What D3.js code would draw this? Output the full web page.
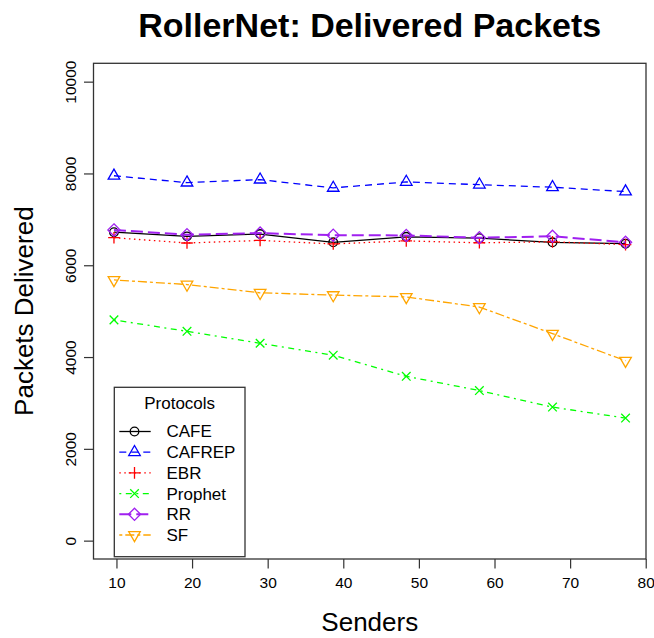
<!DOCTYPE html>
<html>
<head>
<meta charset="utf-8">
<script src="https://cdn.jsdelivr.net/npm/d3@7"></script>
<style>
  html, body { margin: 0; padding: 0; background: #fff; }
  svg { display: block; font-family: "Liberation Sans", Arial, Helvetica, sans-serif; }
</style>
</head>
<body>
<svg id="chart" width="654" height="638"></svg>
<script>
// ---- data ----
const senders = [9.67, 19.33, 29, 38.67, 48.33, 58, 67.67, 77.33];
const protocols = ["CAFE", "CAFREP", "EBR", "Prophet", "RR", "SF"];
const cafe    = [6720, 6630, 6680, 6500, 6620, 6590, 6500, 6470];
const cafrep  = [7950, 7800, 7865, 7685, 7815, 7755, 7700, 7605];
const ebr     = [6600, 6485, 6540, 6465, 6530, 6490, 6510, 6450];
const prophet = [4810, 4560, 4300, 4040, 3580, 3270, 2910, 2670];
const rr      = [6770, 6665, 6700, 6655, 6650, 6600, 6630, 6500];
const sf      = [5680, 5580, 5400, 5350, 5310, 5090, 4510, 3920];
const xTicks = [10, 20, 30, 40, 50, 60, 70, 80];
const yTicks = [0, 2000, 4000, 6000, 8000, 10000];
const yLimits = [0, 10000];
const title = "RollerNet: Delivered Packets";
const xTitle = "Senders";
const yTitle = "Packets Delivered";
const legendTitle = "Protocols";

// ---- styles ----
const styles = {
  CAFE:    { color: "#000000", dash: null,          width: 1.3, shape: "circle" },
  CAFREP:  { color: "#0000FF", dash: "7,5",         width: 1.3, shape: "triUp" },
  EBR:     { color: "#FF0000", dash: "1.5,3.5",     width: 1.3, shape: "plus" },
  Prophet: { color: "#00FF00", dash: "2,4.5,6,4.5", width: 1.3, shape: "cross" },
  RR:      { color: "#A020F0", dash: "12,5",        width: 2,   shape: "diamond" },
  SF:      { color: "#FFA500", dash: "3,3,9,3",     width: 1.3, shape: "triDown" }
};
const seriesValues = { CAFE: cafe, CAFREP: cafrep, EBR: ebr, Prophet: prophet, RR: rr, SF: sf };

const svg = d3.select("#chart");
const box = { left: 93.5, right: 646, top: 63.3, bottom: 559 };

// R-style 4% padding
const xr = d3.extent(senders), xp = (xr[1] - xr[0]) * 0.04;
const x = d3.scaleLinear().domain([xr[0] - xp, xr[1] + xp]).range([box.left, box.right]);
const yp = (yLimits[1] - yLimits[0]) * 0.04;
const y = d3.scaleLinear().domain([yLimits[0] - yp, yLimits[1] + yp]).range([box.bottom, box.top]);

const axisColor = "#333";

// axes
const xAxis = svg.append("g").attr("transform", `translate(0,${box.bottom})`)
  .call(d3.axisBottom(x).tickValues(xTicks).tickSize(9.5).tickPadding(8).tickFormat(d3.format("d")));
xAxis.select(".domain").remove();
xAxis.selectAll("line").attr("stroke", axisColor).attr("stroke-width", 1.2);
xAxis.selectAll("text").attr("font-size", "15.5px").attr("fill", "#000");

const yAxis = svg.append("g").attr("transform", `translate(${box.left},0)`)
  .call(d3.axisLeft(y).tickValues(yTicks).tickSize(9.5).tickFormat(d3.format("d")));
yAxis.select(".domain").remove();
yAxis.selectAll("line").attr("stroke", axisColor).attr("stroke-width", 1.2);
yAxis.selectAll("text")
  .attr("font-size", "15.5px").attr("fill", "#000")
  .attr("text-anchor", "middle")
  .attr("x", null).attr("y", 0)
  .attr("transform", "translate(-23,0) rotate(-90)")
  .attr("dy", "0.35em");

// box
svg.append("rect")
  .attr("x", box.left).attr("y", box.top)
  .attr("width", box.right - box.left).attr("height", box.bottom - box.top)
  .attr("fill", "none").attr("stroke", axisColor).attr("stroke-width", 1.3);

// titles
svg.append("text").attr("x", (box.left + box.right) / 2).attr("y", 37)
  .attr("text-anchor", "middle").attr("font-weight", "bold").attr("font-size", "34px").text(title);
svg.append("text").attr("x", (box.left + box.right) / 2).attr("y", 631)
  .attr("text-anchor", "middle").attr("font-size", "26px").text(xTitle);
svg.append("text")
  .attr("transform", `translate(33,${(box.top + box.bottom) / 2}) rotate(-90)`)
  .attr("text-anchor", "middle").attr("font-size", "26px").text(yTitle);

// marker drawing
const R = 4.3;
function drawMarker(g, shape, cx, cy, color) {
  const sw = 1.3;
  if (shape === "circle") {
    g.append("circle").attr("cx", cx).attr("cy", cy).attr("r", R)
      .attr("fill", "none").attr("stroke", color).attr("stroke-width", sw);
  } else if (shape === "triUp" || shape === "triDown") {
    const r = R * 1.555, xc = r * Math.sqrt(3) / 2, yc = r / 2;
    const s = shape === "triUp" ? -1 : 1;
    const pts = [[cx, cy + s * r], [cx + xc, cy - s * yc], [cx - xc, cy - s * yc]];
    g.append("polygon").attr("points", pts.map(p => p.join(",")).join(" "))
      .attr("fill", "none").attr("stroke", color).attr("stroke-width", sw);
  } else if (shape === "plus") {
    const h = R * 1.35;
    g.append("path").attr("d", `M${cx - h},${cy}H${cx + h}M${cx},${cy - h}V${cy + h}`)
      .attr("stroke", color).attr("stroke-width", sw).attr("fill", "none");
  } else if (shape === "cross") {
    const h = R;
    g.append("path").attr("d", `M${cx - h},${cy - h}L${cx + h},${cy + h}M${cx - h},${cy + h}L${cx + h},${cy - h}`)
      .attr("stroke", color).attr("stroke-width", sw).attr("fill", "none");
  } else if (shape === "diamond") {
    const h = R * 1.414;
    g.append("polygon").attr("points", `${cx},${cy - h} ${cx + h},${cy} ${cx},${cy + h} ${cx - h},${cy}`)
      .attr("fill", "none").attr("stroke", color).attr("stroke-width", sw);
  }
}

// series
const line = d3.line().x(d => x(d[0])).y(d => y(d[1]));
protocols.forEach(p => {
  const st = styles[p];
  const pts = senders.map((s, i) => [s, seriesValues[p][i]]);
  const g = svg.append("g");
  g.append("path").attr("d", line(pts)).attr("fill", "none")
    .attr("stroke", st.color).attr("stroke-width", st.width)
    .attr("stroke-dasharray", st.dash);
  pts.forEach(d => drawMarker(g, st.shape, x(d[0]), y(d[1]), st.color));
});

// legend
const lg = { left: 114.3, top: 387.3, right: 245, bottom: 556.7 };
const leg = svg.append("g");
leg.append("rect").attr("x", lg.left).attr("y", lg.top)
  .attr("width", lg.right - lg.left).attr("height", lg.bottom - lg.top)
  .attr("fill", "#fff").attr("stroke", axisColor).attr("stroke-width", 1.3);
leg.append("text").attr("x", (lg.left + lg.right) / 2).attr("y", 403).attr("dy", "0.35em")
  .attr("text-anchor", "middle").attr("font-size", "17px").text(legendTitle);
protocols.forEach((p, i) => {
  const st = styles[p];
  const cy = 431.5 + i * 20.7;
  leg.append("line").attr("x1", 119.3).attr("x2", 150.7).attr("y1", cy).attr("y2", cy)
    .attr("stroke", st.color).attr("stroke-width", st.width)
    .attr("stroke-dasharray", st.dash);
  drawMarker(leg, st.shape, 134.5, cy, st.color);
  leg.append("text").attr("x", 166.5).attr("y", cy).attr("dy", "0.35em")
    .attr("font-size", "17px").text(p);
});
</script>
</body>
</html>
